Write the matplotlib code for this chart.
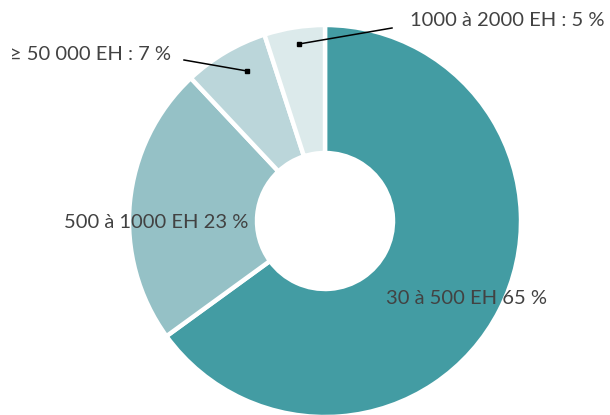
import matplotlib
matplotlib.use('Agg')
import matplotlib.pyplot as plt

# données
categories = ['30 à 500 EH', '500 à 1000 EH', '≥ 50 000 EH', '1000 à 2000 EH']
valeurs = [65, 23, 7, 5]
couleurs = ['#439ca3', '#95c1c6', '#bbd6da', '#dceaeb']

plt.rcParams['font.family'] = ['Lato', 'DejaVu Sans']

fig = plt.figure(figsize=(6.1, 4.15), dpi=100)
ax = fig.add_axes([0, 0, 1, 1])

cx, cy, r = 325, 194, 196
wedges, _ = ax.pie(valeurs, colors=couleurs, startangle=90, counterclock=False,
                   center=(cx, cy), radius=r, frame=True,
                   wedgeprops=dict(width=r - 68, edgecolor='white', linewidth=3.2))
ax.set_xlim(0, 610)
ax.set_ylim(0, 415)
ax.set_aspect('equal')
ax.axis('off')

txt = dict(fontsize=14.5, color='#424242', fontweight='normal')
# étiquettes dans les parts
ax.text(466, 415 - 298, '{} {} %'.format(categories[0], valeurs[0]), ha='center', va='center', **txt)
ax.text(156, 415 - 223, '{} {} %'.format(categories[1], valeurs[1]), ha='center', va='center', **txt)
# étiquettes extérieures avec traits
ax.text(10, 415 - 54, '{} : {} %'.format(categories[2], valeurs[2]), ha='left', va='center', **txt)
ax.plot([184, 247], [415 - 60, 415 - 71], color='black', lw=1.1)
ax.plot([247], [415 - 71], marker='s', ms=3.5, color='black')
ax.text(410, 415 - 21, '{} : {} %'.format(categories[3], valeurs[3]), ha='left', va='center', **txt)
ax.plot([392, 299], [415 - 28, 415 - 44], color='black', lw=1.1)
ax.plot([299], [415 - 44], marker='s', ms=3.5, color='black')

plt.savefig('out.png', dpi=100)
